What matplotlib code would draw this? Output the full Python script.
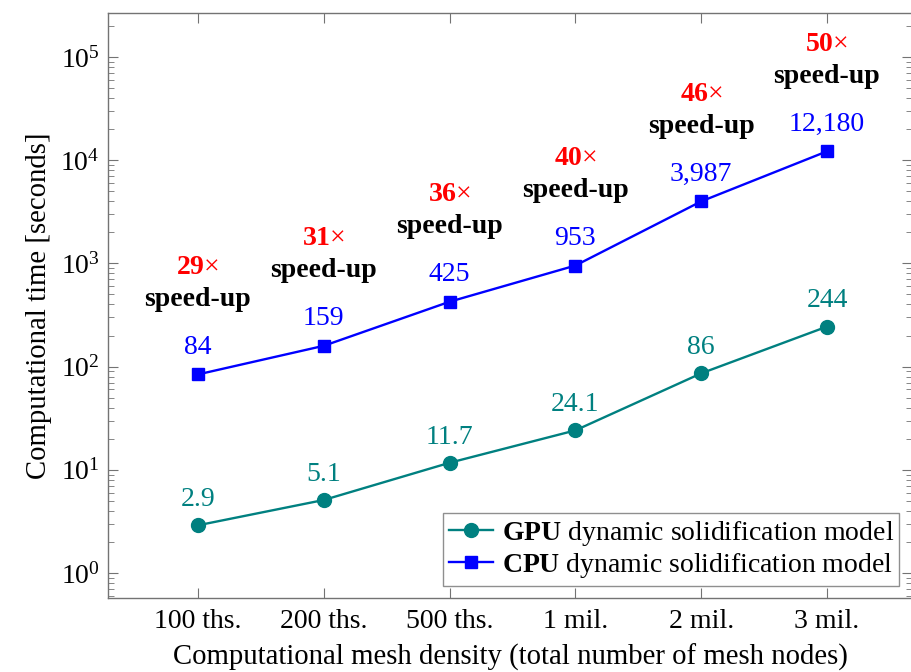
import matplotlib
matplotlib.use("Agg")
import matplotlib.pyplot as plt
from matplotlib.ticker import LogLocator, NullFormatter

plt.rcParams['font.family'] = ['Liberation Serif', 'DejaVu Serif']
plt.rcParams['mathtext.fontset'] = 'custom'
plt.rcParams['mathtext.rm'] = 'Liberation Serif'
plt.rcParams['mathtext.bf'] = 'Liberation Serif:bold'
plt.rcParams['mathtext.it'] = 'Liberation Serif:italic'

categories = ["100 ths.", "200 ths.", "500 ths.", "1 mil.", "2 mil.", "3 mil."]
gpu_times = [2.9, 5.1, 11.7, 24.1, 86, 244]
cpu_times = [84, 159, 425, 953, 3987, 12180]
gpu_labels = ["2.9", "5.1", "11.7", "24.1", "86", "244"]
cpu_labels = ["84", "159", "425", "953", "3,987", "12,180"]
speedups = [29, 31, 36, 40, 46, 50]

teal = '#008080'
blue = '#0000ff'
fs = 20
fs_lab = 20.7

fig = plt.figure(figsize=(9.12, 6.72), dpi=100)
ax = fig.add_axes([108/912, 74/672, 1 - 108/912, (598-13)/672])

x = list(range(len(categories)))
ax.plot(x, gpu_times, color=teal, marker='o', markersize=10, lw=1.7,
        label=r"$\mathbf{GPU}$ dynamic solidification model")
ax.plot(x, cpu_times, color=blue, marker='s', markersize=9, lw=1.7,
        label=r"$\mathbf{CPU}$ dynamic solidification model")

ax.set_yscale('log')
ax.set_ylim(10**-0.242, 10**5.426)
ax.set_xlim(-0.715, 5.676)
ax.set_xticks(x)
ax.set_xticklabels(categories)

ax.yaxis.set_major_locator(LogLocator(base=10, numticks=20))
ax.yaxis.set_minor_locator(LogLocator(base=10, subs=range(2, 10), numticks=20))
ax.yaxis.set_minor_formatter(NullFormatter())

spine_c = '0.45'
for s in ax.spines.values():
    s.set_color(spine_c)
    s.set_linewidth(1.0)
ax.tick_params(axis='both', which='both', direction='in', top=True, right=True,
               color=spine_c, labelsize=fs, labelcolor='black')
ax.tick_params(axis='both', which='major', length=7, width=0.8)
ax.tick_params(axis='y', which='minor', length=4, width=0.6)
ax.tick_params(axis='x', pad=8)
ax.tick_params(axis='y', pad=6)

for xi, v, t in zip(x, gpu_times, gpu_labels):
    ax.annotate(t, (xi, v), xytext=(0, 9.5), textcoords='offset points',
                ha='center', va='bottom', color=teal, fontsize=fs)
for xi, v, t, s in zip(x, cpu_times, cpu_labels, speedups):
    ax.annotate(t, (xi, v), xytext=(0, 10.5), textcoords='offset points',
                ha='center', va='bottom', color=blue, fontsize=fs)
    ax.annotate("speed-up", (xi, v), xytext=(0, 45), textcoords='offset points',
                ha='center', va='bottom', color='black', fontsize=fs, fontweight='bold')
    ax.annotate(rf"$\mathbf{{{s}}}$" + "\u00d7", (xi, v), xytext=(0, 68),
                textcoords='offset points', ha='center', va='bottom', color='red',
                fontsize=fs)

ax.set_xlabel("Computational mesh density (total number of mesh nodes)", fontsize=fs_lab, labelpad=7)
ax.set_ylabel("Computational time [seconds]", fontsize=fs_lab, labelpad=6)

leg = ax.legend(loc='lower right', fontsize=fs, frameon=True, fancybox=False,
                edgecolor=spine_c, handlelength=1.6, handletextpad=0.3,
                borderpad=0.2, labelspacing=0.12, borderaxespad=0.45)
leg.get_frame().set_linewidth(1.0)

fig.savefig("out.png", dpi=100)
